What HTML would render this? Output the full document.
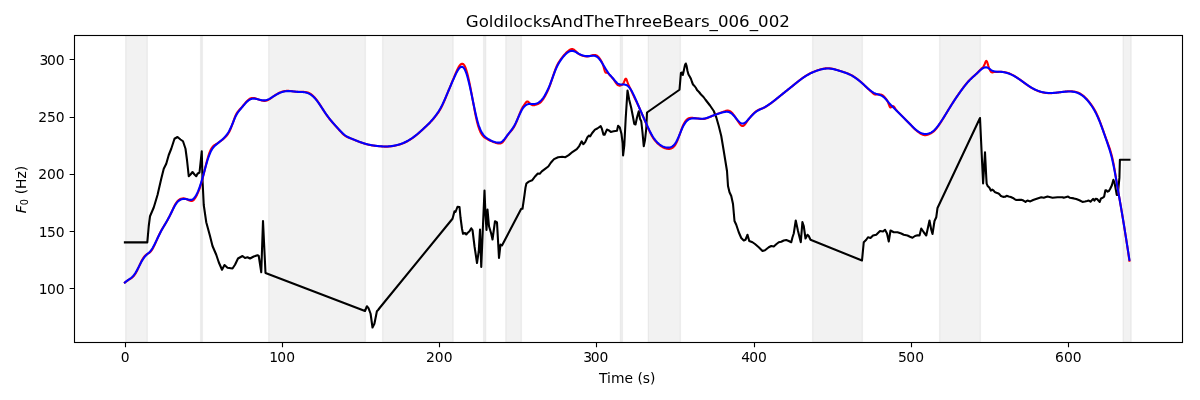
<!DOCTYPE html><html><head><meta charset="utf-8"><title>F0 plot</title>
<style>html,body{margin:0;padding:0;background:#fff;overflow:hidden}svg{display:block;will-change:transform}text{font-kerning:normal}</style></head><body>
<svg width="1200" height="400" viewBox="0 0 1200 400">
<rect x="0" y="0" width="1200" height="400" fill="#fff"/>
<defs><clipPath id="ax"><rect x="74.4" y="35.4" width="1108.1" height="306.8"/></clipPath></defs>
<g clip-path="url(#ax)" fill="#808080" fill-opacity="0.1" stroke="#808080" stroke-opacity="0.1" stroke-width="1.389">
<rect x="125.7" y="35.4" width="21.6" height="306.8"/>
<rect x="200.6" y="35.4" width="1.8" height="306.8"/>
<rect x="268.7" y="35.4" width="96.7" height="306.8"/>
<rect x="382.6" y="35.4" width="70.55" height="306.8"/>
<rect x="483.6" y="35.4" width="2.05" height="306.8"/>
<rect x="505.8" y="35.4" width="15.6" height="306.8"/>
<rect x="620.4" y="35.4" width="2" height="306.8"/>
<rect x="648.3" y="35.4" width="32.1" height="306.8"/>
<rect x="812.6" y="35.4" width="49.8" height="306.8"/>
<rect x="939.6" y="35.4" width="40.8" height="306.8"/>
<rect x="1123.1" y="35.4" width="8.05" height="306.8"/>
</g>
<g clip-path="url(#ax)" fill="none" stroke-width="2.083" stroke-linejoin="round" stroke-linecap="square">
<polyline stroke="#000" points="124.9,242.4 147.3,242.4 148.75,226 150,216.25 153.75,207.5 157.5,195 161.25,178.75 163.75,168.75 166.25,163.75 168.75,155 171.25,148.75 174.5,138.75 177.5,137 180.5,139.5 183,141.25 185.5,148.75 187,160 188.75,176.25 190.5,174.5 192.5,172 194.5,174.5 196.25,176.25 197.5,173.75 199.5,172.5 201.75,151.25 202.5,180 203.75,205 206.25,222.25 210,236 212.5,246 216.25,254.75 218.75,262.25 222,269.75 224.5,265 227.5,267.75 232.5,268.5 235,264.75 238,258.5 242.5,256 245,258 247.5,257.25 250,258.5 253.75,256.5 257.5,255.25 258.75,256 261.25,272.25 263,221 265.5,273 365,311 366.9,306.25 368.5,308.1 370.6,313.75 372.5,327.5 374.4,323.75 376.9,311.25 378.1,310 380,307.5 452.5,218.75 454.5,211.25 455.5,212 457.5,206.75 459.5,207 460.5,217.5 462,228.75 463,233.75 465,233 466.25,234.5 467.5,233 469.5,231.25 471.25,228.25 472.5,230 474.5,246.25 477,263 478.75,251.25 480,229.5 481.25,267 483,225 484.5,190.5 485.5,215 486.5,230 487.5,209.5 489,226.25 491.25,233.75 492.5,239.5 495,221.25 497,222.5 499,258 500.5,244.5 502,245.5 521.25,208.75 522.5,208.75 524.5,195 525.5,187.5 526.4,183.5 528.8,181.6 532.1,180.3 535.3,176.2 537.8,173.5 539.7,173.8 541.8,171.3 545.1,168.9 548.3,166.5 550.8,162.7 554,159.1 558.1,157.2 562.2,156.7 565.4,157.2 568.7,155.1 572.7,151.8 576.8,149.1 579.2,146.1 581.7,141.3 583.3,144.2 585.2,142.1 587.4,137.2 589,135.6 590.1,136.4 592.2,133 595,129.6 597.3,128.5 600.7,126.2 601.8,128.5 603.5,134.7 604.6,134.7 606.9,129.6 608.5,130.2 610.8,131.9 613.6,131.3 617,130.7 618.1,125.7 619.8,127.4 621.5,134.1 622.6,143.1 623.1,155.4 624.3,145.3 625.75,117.5 627.5,90.5 629.25,100 631.25,108 633,117 634.25,123.75 635.5,124.5 637,117.5 638.75,111.25 640,118.75 641.25,121.25 642.5,132.5 643.75,146.25 645,140 646.25,128.75 647,112.5 679.5,89.75 680.9,73 682,72.5 682.8,75 683.5,72 685,65 685.8,63.5 686.5,65.5 687.5,71 688.5,74.5 690,77 691,79 692,82 693,84.5 694.5,86 696,88 697,90 699,92 701,94.5 703.5,97 705.5,99.75 710,105.5 713.75,111 716.25,117.25 718.75,126 721.25,136 723.75,151 727,171 728,186 729.5,192.25 731.25,196 733,204 734.5,221 736.25,224.75 738.75,232.25 741.25,238 743.75,240.5 745.5,239.75 747.5,234.75 749.25,241 752.5,242.25 755,244 758.75,247.25 762.5,251 765,250.25 768.75,247.25 771.25,246 773.75,246.5 776.25,244.25 778.75,242.25 781.25,241.75 783.75,240.5 786.25,240 788.75,241 791.25,242.25 792.5,237.25 793.75,233.5 795.75,220.5 798,231 800.8,242.25 802.4,222 803.75,226 805.5,238.5 807.5,234.75 808.75,236 810.5,239.75 862,260.5 863.75,242.25 866.25,239.75 868,237.25 870.5,238 873,235.5 876.25,234.75 880,231 883,231.5 885,229.75 887,233.5 888.75,241.5 890.5,230.5 893.75,232.25 897.5,232.25 901.25,233.5 903.75,234.75 907.5,235.5 910,236.75 912.5,237.75 915,236 917.5,235.25 919.5,235.5 921.25,228.5 923.75,232.25 926.25,235.5 929.5,220.5 931.25,229.75 932.5,234 934.5,221 936.25,217.25 937.5,208 980,118 983.1,183.5 985,152.25 986.3,178 986.65,183.6 987.7,186.05 989.45,187.8 990.85,190.6 992.25,189.55 993.65,190.6 994.7,192 996.45,192.7 998.55,193.4 999.95,194.8 1001,196.05 1003.1,196.9 1005.2,196.75 1006.6,195.85 1008.7,196.55 1010.8,197.05 1012.9,197.95 1015,199.35 1016.4,200.05 1019.2,199.85 1021.3,199.7 1023.4,200.55 1025.5,201.95 1026.9,200.95 1027.5,200.6 1030.3,201.4 1033.1,200 1037.5,198.4 1041.25,197.2 1043.75,197.8 1047.5,196.6 1052.5,197.8 1057.5,197.2 1062.5,197.2 1063.75,197.8 1068.1,196.6 1070,197.8 1073.75,198.4 1076.25,199.05 1079.4,200.3 1082.5,201.9 1085,201.55 1087,201.1 1088.75,200.6 1090.5,201.7 1093.1,198.9 1094.4,200.6 1095.75,198.7 1097.1,199 1098.4,200.6 1099.7,201.9 1101,198.4 1102.75,197.8 1104.1,196.7 1105.4,190.3 1106.25,190.3 1107.6,191.7 1108.9,191 1110.2,188.8 1111.9,185.3 1113.4,179.8 1114.6,183.1 1115.9,190.1 1116.75,194.9 1117.8,194.9 1118.5,187.5 1119.4,177.9 1119.9,159.75 1129.45,159.75"/>
<polyline stroke="#f00" points="124.9,282.45 125.4,282.09 125.9,281.73 126.4,281.36 126.9,280.99 127.4,280.63 127.9,280.28 128.4,279.94 128.9,279.63 129.4,279.33 129.9,279.03 130.4,278.74 130.9,278.43 131.4,278.1 131.9,277.74 132.4,277.33 132.9,276.88 133.4,276.36 133.9,275.78 134.4,275.14 134.9,274.44 135.4,273.67 135.9,272.85 136.4,271.96 136.9,271.01 137.4,269.99 137.9,268.93 138.4,267.83 138.9,266.72 139.4,265.6 139.9,264.48 140.4,263.38 140.9,262.32 141.4,261.31 141.9,260.34 142.4,259.42 142.9,258.57 143.4,257.79 143.9,257.08 144.4,256.44 144.9,255.88 145.4,255.37 145.9,254.94 146.4,254.56 146.9,254.24 147.4,253.95 147.9,253.67 148.4,253.39 148.9,253.09 149.4,252.75 149.9,252.34 150.4,251.87 150.9,251.33 151.4,250.71 151.9,250.01 152.4,249.23 152.9,248.35 153.4,247.41 153.9,246.4 154.4,245.34 154.9,244.25 155.4,243.13 155.9,242 156.4,240.85 156.9,239.71 157.4,238.57 157.9,237.45 158.4,236.34 158.9,235.26 159.4,234.2 159.9,233.18 160.4,232.2 160.9,231.26 161.4,230.35 161.9,229.47 162.4,228.62 162.9,227.78 163.4,226.96 163.9,226.15 164.4,225.34 164.9,224.52 165.4,223.71 165.9,222.88 166.4,222.05 166.9,221.2 167.4,220.33 167.9,219.44 168.4,218.53 168.9,217.6 169.4,216.64 169.9,215.65 170.4,214.62 170.9,213.57 171.4,212.48 171.9,211.35 172.4,210.21 172.9,209.08 173.4,207.96 173.9,206.89 174.4,205.87 174.9,204.92 175.4,204.05 175.9,203.25 176.4,202.52 176.9,201.85 177.4,201.26 177.9,200.74 178.4,200.29 178.9,199.89 179.4,199.55 179.9,199.26 180.4,199.01 180.9,198.81 181.4,198.65 181.9,198.53 182.4,198.45 182.9,198.4 183.4,198.39 183.9,198.41 184.4,198.47 184.9,198.56 185.4,198.69 185.9,198.85 186.4,199.04 186.9,199.26 187.4,199.5 187.9,199.75 188.4,200 188.9,200.24 189.4,200.46 189.9,200.64 190.4,200.79 190.9,200.89 191.4,200.93 191.9,200.9 192.4,200.77 192.9,200.54 193.4,200.2 193.9,199.74 194.4,199.17 194.9,198.5 195.4,197.73 195.9,196.88 196.4,195.95 196.9,194.97 197.4,193.92 197.9,192.83 198.4,191.67 198.9,190.43 199.4,189.11 199.9,187.7 200.4,186.17 200.9,184.55 201.4,182.83 201.9,181.03 202.4,179.16 202.9,177.23 203.4,175.24 203.9,173.21 204.4,171.15 204.9,169.08 205.4,167.01 205.9,164.97 206.4,162.98 206.9,161.05 207.4,159.21 207.9,157.47 208.4,155.84 208.9,154.33 209.4,152.94 209.9,151.67 210.4,150.53 210.9,149.5 211.4,148.59 211.9,147.79 212.4,147.1 212.9,146.51 213.4,146.01 213.9,145.58 214.4,145.21 214.9,144.87 215.4,144.56 215.9,144.26 216.4,143.95 216.9,143.64 217.4,143.31 217.9,142.99 218.4,142.65 218.9,142.31 219.4,141.97 219.9,141.62 220.4,141.26 220.9,140.9 221.4,140.53 221.9,140.15 222.4,139.77 222.9,139.37 223.4,138.96 223.9,138.53 224.4,138.08 224.9,137.61 225.4,137.11 225.9,136.58 226.4,136.01 226.9,135.41 227.4,134.76 227.9,134.06 228.4,133.28 228.9,132.44 229.4,131.51 229.9,130.5 230.4,129.4 230.9,128.22 231.4,126.96 231.9,125.63 232.4,124.23 232.9,122.79 233.4,121.35 233.9,119.92 234.4,118.53 234.9,117.2 235.4,115.97 235.9,114.84 236.4,113.85 236.9,112.99 237.4,112.22 237.9,111.55 238.4,110.94 238.9,110.37 239.4,109.83 239.9,109.3 240.4,108.76 240.9,108.2 241.4,107.64 241.9,107.06 242.4,106.47 242.9,105.87 243.4,105.27 243.9,104.66 244.4,104.05 244.9,103.44 245.4,102.84 245.9,102.25 246.4,101.69 246.9,101.15 247.4,100.64 247.9,100.17 248.4,99.74 248.9,99.36 249.4,99.02 249.9,98.73 250.4,98.48 250.9,98.28 251.4,98.13 251.9,98.02 252.4,97.96 252.9,97.93 253.4,97.95 253.9,98 254.4,98.08 254.9,98.19 255.4,98.33 255.9,98.49 256.4,98.66 256.9,98.85 257.4,99.04 257.9,99.23 258.4,99.42 258.9,99.61 259.4,99.79 259.9,99.96 260.4,100.12 260.9,100.27 261.4,100.41 261.9,100.54 262.4,100.65 262.9,100.75 263.4,100.82 263.9,100.87 264.4,100.9 264.9,100.88 265.4,100.84 265.9,100.75 266.4,100.63 266.9,100.47 267.4,100.28 267.9,100.06 268.4,99.81 268.9,99.53 269.4,99.23 269.9,98.91 270.4,98.57 270.9,98.22 271.4,97.86 271.9,97.49 272.4,97.13 272.9,96.77 273.4,96.42 273.9,96.07 274.4,95.73 274.9,95.4 275.4,95.07 275.9,94.75 276.4,94.43 276.9,94.13 277.4,93.83 277.9,93.55 278.4,93.28 278.9,93.02 279.4,92.77 279.9,92.53 280.4,92.32 280.9,92.11 281.4,91.93 281.9,91.75 282.4,91.6 282.9,91.46 283.4,91.34 283.9,91.23 284.4,91.14 284.9,91.06 285.4,90.99 285.9,90.94 286.4,90.91 286.9,90.88 287.4,90.87 287.9,90.86 288.4,90.87 288.9,90.89 289.4,90.92 289.9,90.96 290.4,91.01 290.9,91.07 291.4,91.13 291.9,91.19 292.4,91.27 292.9,91.34 293.4,91.41 293.9,91.49 294.4,91.56 294.9,91.63 295.4,91.69 295.9,91.75 296.4,91.81 296.9,91.85 297.4,91.88 297.9,91.91 298.4,91.92 298.9,91.92 299.4,91.91 299.9,91.9 300.4,91.89 300.9,91.88 301.4,91.86 301.9,91.86 302.4,91.85 302.9,91.85 303.4,91.87 303.9,91.89 304.4,91.92 304.9,91.96 305.4,92.03 305.9,92.1 306.4,92.2 306.9,92.31 307.4,92.45 307.9,92.6 308.4,92.78 308.9,92.99 309.4,93.23 309.9,93.49 310.4,93.78 310.9,94.11 311.4,94.47 311.9,94.85 312.4,95.26 312.9,95.7 313.4,96.17 313.9,96.67 314.4,97.2 314.9,97.75 315.4,98.33 315.9,98.94 316.4,99.58 316.9,100.24 317.4,100.91 317.9,101.61 318.4,102.33 318.9,103.07 319.4,103.82 319.9,104.58 320.4,105.36 320.9,106.15 321.4,106.94 321.9,107.74 322.4,108.55 322.9,109.35 323.4,110.16 323.9,110.95 324.4,111.74 324.9,112.52 325.4,113.28 325.9,114.02 326.4,114.74 326.9,115.45 327.4,116.14 327.9,116.82 328.4,117.49 328.9,118.14 329.4,118.78 329.9,119.4 330.4,120.02 330.9,120.62 331.4,121.22 331.9,121.8 332.4,122.38 332.9,122.95 333.4,123.52 333.9,124.07 334.4,124.63 334.9,125.18 335.4,125.73 335.9,126.28 336.4,126.83 336.9,127.38 337.4,127.94 337.9,128.5 338.4,129.06 338.9,129.63 339.4,130.2 339.9,130.76 340.4,131.32 340.9,131.87 341.4,132.4 341.9,132.93 342.4,133.44 342.9,133.93 343.4,134.39 343.9,134.83 344.4,135.25 344.9,135.63 345.4,135.98 345.9,136.3 346.4,136.6 346.9,136.87 347.4,137.12 347.9,137.35 348.4,137.57 348.9,137.77 349.4,137.96 349.9,138.15 350.4,138.33 350.9,138.51 351.4,138.7 351.9,138.88 352.4,139.07 352.9,139.26 353.4,139.46 353.9,139.66 354.4,139.86 354.9,140.06 355.4,140.27 355.9,140.47 356.4,140.68 356.9,140.88 357.4,141.08 357.9,141.28 358.4,141.48 358.9,141.67 359.4,141.87 359.9,142.05 360.4,142.24 360.9,142.42 361.4,142.6 361.9,142.77 362.4,142.94 362.9,143.11 363.4,143.27 363.9,143.43 364.4,143.58 364.9,143.73 365.4,143.87 365.9,144.01 366.4,144.15 366.9,144.28 367.4,144.41 367.9,144.54 368.4,144.65 368.9,144.77 369.4,144.88 369.9,144.98 370.4,145.09 370.9,145.18 371.4,145.27 371.9,145.36 372.4,145.44 372.9,145.51 373.4,145.59 373.9,145.65 374.4,145.72 374.9,145.78 375.4,145.84 375.9,145.89 376.4,145.95 376.9,146 377.4,146.05 377.9,146.09 378.4,146.14 378.9,146.18 379.4,146.23 379.9,146.27 380.4,146.32 380.9,146.36 381.4,146.4 381.9,146.44 382.4,146.48 382.9,146.52 383.4,146.55 383.9,146.57 384.4,146.59 384.9,146.61 385.4,146.62 385.9,146.62 386.4,146.62 386.9,146.6 387.4,146.59 387.9,146.56 388.4,146.53 388.9,146.5 389.4,146.46 389.9,146.41 390.4,146.36 390.9,146.3 391.4,146.24 391.9,146.17 392.4,146.1 392.9,146.02 393.4,145.94 393.9,145.85 394.4,145.76 394.9,145.66 395.4,145.56 395.9,145.46 396.4,145.34 396.9,145.23 397.4,145.11 397.9,144.98 398.4,144.84 398.9,144.71 399.4,144.56 399.9,144.41 400.4,144.25 400.9,144.08 401.4,143.91 401.9,143.73 402.4,143.54 402.9,143.35 403.4,143.15 403.9,142.94 404.4,142.72 404.9,142.49 405.4,142.25 405.9,142.01 406.4,141.75 406.9,141.49 407.4,141.22 407.9,140.94 408.4,140.66 408.9,140.36 409.4,140.06 409.9,139.75 410.4,139.43 410.9,139.11 411.4,138.77 411.9,138.43 412.4,138.09 412.9,137.73 413.4,137.37 413.9,137 414.4,136.62 414.9,136.24 415.4,135.85 415.9,135.45 416.4,135.04 416.9,134.63 417.4,134.22 417.9,133.79 418.4,133.37 418.9,132.93 419.4,132.49 419.9,132.05 420.4,131.6 420.9,131.15 421.4,130.7 421.9,130.24 422.4,129.78 422.9,129.31 423.4,128.85 423.9,128.38 424.4,127.91 424.9,127.44 425.4,126.98 425.9,126.51 426.4,126.04 426.9,125.57 427.4,125.1 427.9,124.62 428.4,124.14 428.9,123.65 429.4,123.15 429.9,122.65 430.4,122.13 430.9,121.61 431.4,121.07 431.9,120.52 432.4,119.96 432.9,119.39 433.4,118.81 433.9,118.21 434.4,117.61 434.9,116.99 435.4,116.36 435.9,115.72 436.4,115.07 436.9,114.41 437.4,113.73 437.9,113.04 438.4,112.32 438.9,111.58 439.4,110.8 439.9,109.98 440.4,109.12 440.9,108.21 441.4,107.25 441.9,106.26 442.4,105.22 442.9,104.14 443.4,103.04 443.9,101.9 444.4,100.75 444.9,99.57 445.4,98.37 445.9,97.16 446.4,95.94 446.9,94.71 447.4,93.47 447.9,92.23 448.4,90.99 448.9,89.75 449.4,88.52 449.9,87.29 450.4,86.06 450.9,84.84 451.4,83.62 451.9,82.41 452.4,81.19 452.9,79.99 453.4,78.78 453.9,77.58 454.4,76.37 454.9,75.17 455.4,73.97 455.9,72.77 456.4,71.61 456.9,70.47 457.4,69.39 457.9,68.38 458.4,67.44 458.9,66.59 459.4,65.83 459.9,65.19 460.4,64.65 460.9,64.24 461.4,63.96 461.9,63.81 462.4,63.8 462.9,63.95 463.4,64.26 463.9,64.75 464.4,65.45 464.9,66.34 465.4,67.44 465.9,68.75 466.4,70.26 466.9,71.96 467.4,73.83 467.9,75.84 468.4,77.97 468.9,80.22 469.4,82.57 469.9,85.01 470.4,87.54 470.9,90.14 471.4,92.79 471.9,95.49 472.4,98.22 472.9,100.95 473.4,103.69 473.9,106.41 474.4,109.09 474.9,111.72 475.4,114.28 475.9,116.74 476.4,119.07 476.9,121.26 477.4,123.26 477.9,125.09 478.4,126.76 478.9,128.26 479.4,129.63 479.9,130.85 480.4,131.95 480.9,132.94 481.4,133.82 481.9,134.6 482.4,135.29 482.9,135.9 483.4,136.44 483.9,136.92 484.4,137.35 484.9,137.72 485.4,138.06 485.9,138.37 486.4,138.65 486.9,138.93 487.4,139.19 487.9,139.46 488.4,139.72 488.9,139.97 489.4,140.22 489.9,140.46 490.4,140.7 490.9,140.93 491.4,141.15 491.9,141.37 492.4,141.59 492.9,141.8 493.4,142 493.9,142.2 494.4,142.39 494.9,142.57 495.4,142.74 495.9,142.89 496.4,143.04 496.9,143.17 497.4,143.29 497.9,143.4 498.4,143.49 498.9,143.55 499.4,143.57 499.9,143.55 500.4,143.47 500.9,143.32 501.4,143.1 501.9,142.79 502.4,142.39 502.9,141.89 503.4,141.32 503.9,140.68 504.4,139.99 504.9,139.26 505.4,138.5 505.9,137.72 506.4,136.94 506.9,136.18 507.4,135.45 507.9,134.77 508.4,134.12 508.9,133.51 509.4,132.92 509.9,132.34 510.4,131.77 510.9,131.19 511.4,130.6 511.9,129.98 512.4,129.34 512.9,128.65 513.4,127.92 513.9,127.12 514.4,126.26 514.9,125.32 515.4,124.29 515.9,123.17 516.4,122 516.9,120.77 517.4,119.5 517.9,118.21 518.4,116.91 518.9,115.61 519.4,114.32 519.9,113.06 520.4,111.84 520.9,110.67 521.4,109.58 521.9,108.55 522.4,107.62 522.9,106.79 523.4,106.03 523.9,105.32 524.4,104.63 524.9,103.92 525.4,103.2 525.9,102.51 526.4,101.93 526.9,101.54 527.4,101.43 527.9,101.58 528.4,101.96 528.9,102.46 529.4,102.99 529.9,103.5 530.4,103.95 530.9,104.35 531.4,104.68 531.9,104.95 532.4,105.14 532.9,105.25 533.4,105.28 533.9,105.24 534.4,105.15 534.9,105.02 535.4,104.87 535.9,104.71 536.4,104.55 536.9,104.37 537.4,104.19 537.9,103.98 538.4,103.75 538.9,103.48 539.4,103.17 539.9,102.82 540.4,102.41 540.9,101.94 541.4,101.42 541.9,100.85 542.4,100.22 542.9,99.54 543.4,98.81 543.9,98.04 544.4,97.22 544.9,96.37 545.4,95.48 545.9,94.55 546.4,93.58 546.9,92.56 547.4,91.5 547.9,90.4 548.4,89.24 548.9,88.04 549.4,86.78 549.9,85.46 550.4,84.08 550.9,82.66 551.4,81.19 551.9,79.7 552.4,78.19 552.9,76.67 553.4,75.16 553.9,73.67 554.4,72.2 554.9,70.78 555.4,69.4 555.9,68.1 556.4,66.87 556.9,65.72 557.4,64.68 557.9,63.72 558.4,62.84 558.9,62.02 559.4,61.25 559.9,60.51 560.4,59.79 560.9,59.1 561.4,58.42 561.9,57.75 562.4,57.11 562.9,56.48 563.4,55.87 563.9,55.27 564.4,54.7 564.9,54.14 565.4,53.6 565.9,53.08 566.4,52.59 566.9,52.11 567.4,51.66 567.9,51.23 568.4,50.82 568.9,50.44 569.4,50.09 569.9,49.77 570.4,49.5 570.9,49.29 571.4,49.14 571.9,49.06 572.4,49.08 572.9,49.2 573.4,49.41 573.9,49.7 574.4,50.06 574.9,50.47 575.4,50.92 575.9,51.38 576.4,51.85 576.9,52.32 577.4,52.76 577.9,53.18 578.4,53.57 578.9,53.93 579.4,54.25 579.9,54.53 580.4,54.79 580.9,55.03 581.4,55.25 581.9,55.45 582.4,55.64 582.9,55.81 583.4,55.96 583.9,56.1 584.4,56.21 584.9,56.31 585.4,56.38 585.9,56.43 586.4,56.45 586.9,56.45 587.4,56.43 587.9,56.38 588.4,56.32 588.9,56.23 589.4,56.13 589.9,56.01 590.4,55.87 590.9,55.71 591.4,55.55 591.9,55.4 592.4,55.25 592.9,55.12 593.4,55.02 593.9,54.95 594.4,54.92 594.9,54.94 595.4,55.01 595.9,55.15 596.4,55.35 596.9,55.62 597.4,55.97 597.9,56.41 598.4,56.92 598.9,57.51 599.4,58.17 599.9,58.88 600.4,59.65 600.9,60.46 601.4,61.32 601.9,62.26 602.4,63.31 602.9,64.56 603.4,66.08 603.9,67.87 604.4,69.74 604.9,71.35 605.4,72.38 605.9,72.78 606.4,72.77 606.9,72.68 607.4,72.77 607.9,73.09 608.4,73.6 608.9,74.17 609.4,74.75 609.9,75.31 610.4,75.84 610.9,76.36 611.4,76.88 611.9,77.41 612.4,77.97 612.9,78.56 613.4,79.22 613.9,79.92 614.4,80.65 614.9,81.4 615.4,82.15 615.9,82.88 616.4,83.56 616.9,84.17 617.4,84.69 617.9,85.09 618.4,85.38 618.9,85.55 619.4,85.62 619.9,85.61 620.4,85.51 620.9,85.36 621.4,85.16 621.9,84.91 622.4,84.57 622.9,84.09 623.4,83.36 623.9,82.33 624.4,81.05 624.9,79.76 625.4,78.84 625.9,78.63 626.4,79.26 626.9,80.51 627.4,82.03 627.9,83.5 628.4,84.76 628.9,85.83 629.4,86.81 629.9,87.77 630.4,88.77 630.9,89.83 631.4,90.92 631.9,92.05 632.4,93.17 632.9,94.28 633.4,95.36 633.9,96.42 634.4,97.44 634.9,98.45 635.4,99.45 635.9,100.46 636.4,101.49 636.9,102.54 637.4,103.61 637.9,104.7 638.4,105.8 638.9,106.91 639.4,108.04 639.9,109.17 640.4,110.3 640.9,111.44 641.4,112.58 641.9,113.73 642.4,114.88 642.9,116.03 643.4,117.19 643.9,118.35 644.4,119.51 644.9,120.67 645.4,121.84 645.9,122.99 646.4,124.15 646.9,125.3 647.4,126.44 647.9,127.58 648.4,128.71 648.9,129.82 649.4,130.91 649.9,131.98 650.4,133.02 650.9,134.02 651.4,134.99 651.9,135.91 652.4,136.79 652.9,137.61 653.4,138.39 653.9,139.11 654.4,139.8 654.9,140.44 655.4,141.04 655.9,141.62 656.4,142.16 656.9,142.68 657.4,143.17 657.9,143.64 658.4,144.1 658.9,144.53 659.4,144.94 659.9,145.34 660.4,145.72 660.9,146.07 661.4,146.41 661.9,146.73 662.4,147.03 662.9,147.3 663.4,147.56 663.9,147.79 664.4,148.01 664.9,148.2 665.4,148.37 665.9,148.51 666.4,148.63 666.9,148.74 667.4,148.82 667.9,148.88 668.4,148.92 668.9,148.93 669.4,148.91 669.9,148.85 670.4,148.75 670.9,148.61 671.4,148.42 671.9,148.18 672.4,147.88 672.9,147.51 673.4,147.09 673.9,146.59 674.4,146.01 674.9,145.35 675.4,144.6 675.9,143.76 676.4,142.81 676.9,141.76 677.4,140.62 677.9,139.39 678.4,138.1 678.9,136.76 679.4,135.36 679.9,133.94 680.4,132.49 680.9,131.04 681.4,129.62 681.9,128.25 682.4,126.95 682.9,125.76 683.4,124.66 683.9,123.67 684.4,122.77 684.9,121.95 685.4,121.22 685.9,120.58 686.4,120.01 686.9,119.52 687.4,119.1 687.9,118.76 688.4,118.48 688.9,118.27 689.4,118.1 689.9,117.99 690.4,117.91 690.9,117.87 691.4,117.85 691.9,117.86 692.4,117.88 692.9,117.91 693.4,117.95 693.9,118 694.4,118.05 694.9,118.11 695.4,118.17 695.9,118.23 696.4,118.3 696.9,118.38 697.4,118.45 697.9,118.52 698.4,118.59 698.9,118.66 699.4,118.73 699.9,118.79 700.4,118.85 700.9,118.89 701.4,118.93 701.9,118.96 702.4,118.97 702.9,118.97 703.4,118.95 703.9,118.91 704.4,118.85 704.9,118.77 705.4,118.66 705.9,118.52 706.4,118.37 706.9,118.2 707.4,118.01 707.9,117.81 708.4,117.6 708.9,117.38 709.4,117.15 709.9,116.93 710.4,116.7 710.9,116.47 711.4,116.25 711.9,116.04 712.4,115.83 712.9,115.63 713.4,115.43 713.9,115.24 714.4,115.05 714.9,114.86 715.4,114.67 715.9,114.49 716.4,114.3 716.9,114.12 717.4,113.94 717.9,113.76 718.4,113.57 718.9,113.39 719.4,113.21 719.9,113.03 720.4,112.84 720.9,112.66 721.4,112.48 721.9,112.3 722.4,112.11 722.9,111.92 723.4,111.73 723.9,111.54 724.4,111.35 724.9,111.17 725.4,111 725.9,110.85 726.4,110.73 726.9,110.64 727.4,110.6 727.9,110.6 728.4,110.65 728.9,110.77 729.4,110.94 729.9,111.17 730.4,111.46 730.9,111.82 731.4,112.25 731.9,112.74 732.4,113.28 732.9,113.88 733.4,114.52 733.9,115.19 734.4,115.9 734.9,116.63 735.4,117.38 735.9,118.15 736.4,118.92 736.9,119.7 737.4,120.47 737.9,121.24 738.4,121.99 738.9,122.73 739.4,123.43 739.9,124.1 740.4,124.71 740.9,125.23 741.4,125.64 741.9,125.92 742.4,126.04 742.9,126 743.4,125.8 743.9,125.46 744.4,125 744.9,124.44 745.4,123.82 745.9,123.14 746.4,122.44 746.9,121.73 747.4,121.02 747.9,120.32 748.4,119.64 748.9,118.98 749.4,118.33 749.9,117.71 750.4,117.1 750.9,116.5 751.4,115.91 751.9,115.33 752.4,114.77 752.9,114.22 753.4,113.69 753.9,113.18 754.4,112.7 754.9,112.25 755.4,111.83 755.9,111.44 756.4,111.08 756.9,110.76 757.4,110.45 757.9,110.18 758.4,109.93 758.9,109.7 759.4,109.5 759.9,109.31 760.4,109.13 760.9,108.96 761.4,108.78 761.9,108.6 762.4,108.41 762.9,108.21 763.4,107.98 763.9,107.74 764.4,107.49 764.9,107.23 765.4,106.95 765.9,106.66 766.4,106.36 766.9,106.05 767.4,105.73 767.9,105.41 768.4,105.07 768.9,104.73 769.4,104.38 769.9,104.02 770.4,103.66 770.9,103.29 771.4,102.91 771.9,102.53 772.4,102.15 772.9,101.76 773.4,101.37 773.9,100.98 774.4,100.58 774.9,100.18 775.4,99.77 775.9,99.37 776.4,98.96 776.9,98.55 777.4,98.14 777.9,97.73 778.4,97.32 778.9,96.91 779.4,96.5 779.9,96.09 780.4,95.69 780.9,95.28 781.4,94.88 781.9,94.47 782.4,94.07 782.9,93.67 783.4,93.27 783.9,92.87 784.4,92.47 784.9,92.07 785.4,91.68 785.9,91.28 786.4,90.88 786.9,90.48 787.4,90.08 787.9,89.68 788.4,89.29 788.9,88.89 789.4,88.49 789.9,88.09 790.4,87.69 790.9,87.28 791.4,86.88 791.9,86.48 792.4,86.07 792.9,85.66 793.4,85.25 793.9,84.84 794.4,84.43 794.9,84.02 795.4,83.62 795.9,83.21 796.4,82.8 796.9,82.39 797.4,81.99 797.9,81.59 798.4,81.19 798.9,80.79 799.4,80.4 799.9,80.01 800.4,79.63 800.9,79.25 801.4,78.87 801.9,78.5 802.4,78.14 802.9,77.78 803.4,77.43 803.9,77.08 804.4,76.74 804.9,76.41 805.4,76.09 805.9,75.78 806.4,75.47 806.9,75.17 807.4,74.88 807.9,74.6 808.4,74.32 808.9,74.05 809.4,73.78 809.9,73.53 810.4,73.28 810.9,73.03 811.4,72.8 811.9,72.56 812.4,72.34 812.9,72.12 813.4,71.9 813.9,71.7 814.4,71.49 814.9,71.29 815.4,71.1 815.9,70.91 816.4,70.73 816.9,70.55 817.4,70.38 817.9,70.21 818.4,70.04 818.9,69.88 819.4,69.72 819.9,69.57 820.4,69.43 820.9,69.29 821.4,69.16 821.9,69.03 822.4,68.92 822.9,68.81 823.4,68.71 823.9,68.61 824.4,68.53 824.9,68.46 825.4,68.4 825.9,68.34 826.4,68.3 826.9,68.27 827.4,68.25 827.9,68.24 828.4,68.25 828.9,68.27 829.4,68.3 829.9,68.35 830.4,68.41 830.9,68.47 831.4,68.55 831.9,68.64 832.4,68.74 832.9,68.85 833.4,68.96 833.9,69.09 834.4,69.22 834.9,69.35 835.4,69.49 835.9,69.64 836.4,69.79 836.9,69.94 837.4,70.09 837.9,70.25 838.4,70.41 838.9,70.57 839.4,70.73 839.9,70.89 840.4,71.05 840.9,71.2 841.4,71.36 841.9,71.51 842.4,71.67 842.9,71.82 843.4,71.98 843.9,72.14 844.4,72.31 844.9,72.47 845.4,72.65 845.9,72.82 846.4,73 846.9,73.19 847.4,73.38 847.9,73.58 848.4,73.78 848.9,74 849.4,74.22 849.9,74.44 850.4,74.68 850.9,74.93 851.4,75.19 851.9,75.45 852.4,75.73 852.9,76.02 853.4,76.32 853.9,76.63 854.4,76.96 854.9,77.29 855.4,77.63 855.9,77.98 856.4,78.35 856.9,78.72 857.4,79.1 857.9,79.48 858.4,79.88 858.9,80.29 859.4,80.7 859.9,81.12 860.4,81.55 860.9,81.98 861.4,82.43 861.9,82.88 862.4,83.34 862.9,83.81 863.4,84.28 863.9,84.76 864.4,85.24 864.9,85.73 865.4,86.22 865.9,86.7 866.4,87.19 866.9,87.67 867.4,88.15 867.9,88.62 868.4,89.09 868.9,89.55 869.4,90.01 869.9,90.47 870.4,90.92 870.9,91.39 871.4,91.86 871.9,92.33 872.4,92.79 872.9,93.23 873.4,93.64 873.9,93.99 874.4,94.26 874.9,94.45 875.4,94.56 875.9,94.59 876.4,94.58 876.9,94.55 877.4,94.5 877.9,94.46 878.4,94.43 878.9,94.41 879.4,94.41 879.9,94.43 880.4,94.48 880.9,94.56 881.4,94.7 881.9,94.9 882.4,95.16 882.9,95.5 883.4,95.9 883.9,96.36 884.4,96.88 884.9,97.45 885.4,98.06 885.9,98.71 886.4,99.41 886.9,100.18 887.4,101.07 887.9,102.12 888.4,103.36 888.9,104.7 889.4,105.97 889.9,106.94 890.4,107.44 890.9,107.47 891.4,107.16 891.9,106.71 892.4,106.32 892.9,106.12 893.4,106.21 893.9,106.6 894.4,107.25 894.9,108.05 895.4,108.86 895.9,109.6 896.4,110.26 896.9,110.83 897.4,111.36 897.9,111.87 898.4,112.37 898.9,112.87 899.4,113.37 899.9,113.87 900.4,114.37 900.9,114.87 901.4,115.38 901.9,115.88 902.4,116.38 902.9,116.88 903.4,117.38 903.9,117.88 904.4,118.38 904.9,118.89 905.4,119.39 905.9,119.89 906.4,120.39 906.9,120.9 907.4,121.41 907.9,121.92 908.4,122.43 908.9,122.95 909.4,123.47 909.9,123.99 910.4,124.53 910.9,125.07 911.4,125.61 911.9,126.14 912.4,126.68 912.9,127.21 913.4,127.73 913.9,128.24 914.4,128.74 914.9,129.22 915.4,129.69 915.9,130.14 916.4,130.57 916.9,130.99 917.4,131.39 917.9,131.78 918.4,132.15 918.9,132.52 919.4,132.87 919.9,133.2 920.4,133.52 920.9,133.83 921.4,134.11 921.9,134.37 922.4,134.6 922.9,134.79 923.4,134.95 923.9,135.07 924.4,135.14 924.9,135.18 925.4,135.17 925.9,135.12 926.4,135.04 926.9,134.93 927.4,134.8 927.9,134.64 928.4,134.46 928.9,134.26 929.4,134.05 929.9,133.82 930.4,133.57 930.9,133.3 931.4,133.01 931.9,132.7 932.4,132.36 932.9,132 933.4,131.6 933.9,131.17 934.4,130.71 934.9,130.21 935.4,129.67 935.9,129.1 936.4,128.5 936.9,127.87 937.4,127.21 937.9,126.52 938.4,125.82 938.9,125.1 939.4,124.37 939.9,123.63 940.4,122.87 940.9,122.1 941.4,121.33 941.9,120.54 942.4,119.74 942.9,118.94 943.4,118.13 943.9,117.31 944.4,116.49 944.9,115.66 945.4,114.83 945.9,114 946.4,113.16 946.9,112.33 947.4,111.49 947.9,110.66 948.4,109.83 948.9,109 949.4,108.17 949.9,107.35 950.4,106.54 950.9,105.74 951.4,104.94 951.9,104.15 952.4,103.37 952.9,102.59 953.4,101.82 953.9,101.05 954.4,100.29 954.9,99.53 955.4,98.78 955.9,98.03 956.4,97.29 956.9,96.55 957.4,95.82 957.9,95.1 958.4,94.37 958.9,93.65 959.4,92.94 959.9,92.23 960.4,91.52 960.9,90.82 961.4,90.12 961.9,89.43 962.4,88.75 962.9,88.07 963.4,87.4 963.9,86.73 964.4,86.08 964.9,85.43 965.4,84.8 965.9,84.17 966.4,83.56 966.9,82.96 967.4,82.37 967.9,81.79 968.4,81.23 968.9,80.68 969.4,80.15 969.9,79.64 970.4,79.15 970.9,78.67 971.4,78.2 971.9,77.75 972.4,77.31 972.9,76.88 973.4,76.45 973.9,76.02 974.4,75.59 974.9,75.16 975.4,74.72 975.9,74.27 976.4,73.82 976.9,73.34 977.4,72.85 977.9,72.34 978.4,71.81 978.9,71.26 979.4,70.72 979.9,70.18 980.4,69.64 980.9,69.12 981.4,68.62 981.9,68.15 982.4,67.68 982.9,67.19 983.4,66.61 983.9,65.85 984.4,64.82 984.9,63.54 985.4,62.21 985.9,61.2 986.4,60.89 986.9,61.45 987.4,62.73 987.9,64.39 988.4,66.08 988.9,67.59 989.4,68.88 989.9,69.98 990.4,70.92 990.9,71.65 991.4,72.13 991.9,72.35 992.4,72.37 992.9,72.27 993.4,72.14 993.9,72.04 994.4,71.98 994.9,71.95 995.4,71.95 995.9,71.95 996.4,71.94 996.9,71.92 997.4,71.9 997.9,71.87 998.4,71.84 998.9,71.8 999.4,71.78 999.9,71.76 1000.4,71.75 1000.9,71.76 1001.4,71.78 1001.9,71.81 1002.4,71.85 1002.9,71.91 1003.4,71.97 1003.9,72.04 1004.4,72.13 1004.9,72.22 1005.4,72.33 1005.9,72.44 1006.4,72.57 1006.9,72.7 1007.4,72.85 1007.9,73 1008.4,73.17 1008.9,73.34 1009.4,73.53 1009.9,73.73 1010.4,73.94 1010.9,74.16 1011.4,74.39 1011.9,74.64 1012.4,74.89 1012.9,75.15 1013.4,75.42 1013.9,75.7 1014.4,75.99 1014.9,76.29 1015.4,76.59 1015.9,76.9 1016.4,77.22 1016.9,77.54 1017.4,77.87 1017.9,78.2 1018.4,78.55 1018.9,78.89 1019.4,79.24 1019.9,79.6 1020.4,79.96 1020.9,80.32 1021.4,80.69 1021.9,81.06 1022.4,81.43 1022.9,81.8 1023.4,82.18 1023.9,82.55 1024.4,82.92 1024.9,83.3 1025.4,83.67 1025.9,84.04 1026.4,84.4 1026.9,84.76 1027.4,85.12 1027.9,85.48 1028.4,85.82 1028.9,86.17 1029.4,86.5 1029.9,86.83 1030.4,87.15 1030.9,87.46 1031.4,87.77 1031.9,88.06 1032.4,88.35 1032.9,88.63 1033.4,88.9 1033.9,89.17 1034.4,89.42 1034.9,89.67 1035.4,89.91 1035.9,90.14 1036.4,90.36 1036.9,90.58 1037.4,90.78 1037.9,90.98 1038.4,91.17 1038.9,91.35 1039.4,91.52 1039.9,91.68 1040.4,91.83 1040.9,91.97 1041.4,92.11 1041.9,92.23 1042.4,92.34 1042.9,92.45 1043.4,92.55 1043.9,92.64 1044.4,92.72 1044.9,92.8 1045.4,92.87 1045.9,92.92 1046.4,92.98 1046.9,93.02 1047.4,93.06 1047.9,93.09 1048.4,93.11 1048.9,93.13 1049.4,93.14 1049.9,93.14 1050.4,93.14 1050.9,93.13 1051.4,93.12 1051.9,93.1 1052.4,93.07 1052.9,93.04 1053.4,93.01 1053.9,92.97 1054.4,92.92 1054.9,92.88 1055.4,92.83 1055.9,92.77 1056.4,92.72 1056.9,92.66 1057.4,92.59 1057.9,92.53 1058.4,92.47 1058.9,92.4 1059.4,92.33 1059.9,92.26 1060.4,92.2 1060.9,92.13 1061.4,92.06 1061.9,91.99 1062.4,91.92 1062.9,91.85 1063.4,91.79 1063.9,91.73 1064.4,91.67 1064.9,91.61 1065.4,91.56 1065.9,91.51 1066.4,91.46 1066.9,91.42 1067.4,91.39 1067.9,91.36 1068.4,91.33 1068.9,91.31 1069.4,91.3 1069.9,91.29 1070.4,91.29 1070.9,91.3 1071.4,91.32 1071.9,91.34 1072.4,91.38 1072.9,91.42 1073.4,91.48 1073.9,91.54 1074.4,91.62 1074.9,91.71 1075.4,91.82 1075.9,91.94 1076.4,92.07 1076.9,92.22 1077.4,92.39 1077.9,92.57 1078.4,92.77 1078.9,92.99 1079.4,93.23 1079.9,93.49 1080.4,93.77 1080.9,94.07 1081.4,94.4 1081.9,94.74 1082.4,95.1 1082.9,95.49 1083.4,95.89 1083.9,96.31 1084.4,96.75 1084.9,97.21 1085.4,97.7 1085.9,98.2 1086.4,98.71 1086.9,99.25 1087.4,99.81 1087.9,100.38 1088.4,100.97 1088.9,101.58 1089.4,102.21 1089.9,102.85 1090.4,103.51 1090.9,104.19 1091.4,104.88 1091.9,105.59 1092.4,106.33 1092.9,107.09 1093.4,107.87 1093.9,108.69 1094.4,109.54 1094.9,110.42 1095.4,111.35 1095.9,112.31 1096.4,113.32 1096.9,114.37 1097.4,115.47 1097.9,116.61 1098.4,117.78 1098.9,118.99 1099.4,120.24 1099.9,121.52 1100.4,122.83 1100.9,124.17 1101.4,125.54 1101.9,126.93 1102.4,128.33 1102.9,129.75 1103.4,131.18 1103.9,132.6 1104.4,134.03 1104.9,135.44 1105.4,136.83 1105.9,138.2 1106.4,139.55 1106.9,140.89 1107.4,142.23 1107.9,143.57 1108.4,144.92 1108.9,146.3 1109.4,147.7 1109.9,149.19 1110.4,150.76 1110.9,152.43 1111.4,154.22 1111.9,156.17 1112.4,158.29 1112.9,160.6 1113.4,163.07 1113.9,165.69 1114.4,168.45 1114.9,171.33 1115.4,174.31 1115.9,177.34 1116.4,180.4 1116.9,183.45 1117.4,186.46 1117.9,189.41 1118.4,192.33 1118.9,195.21 1119.4,198.09 1119.9,200.96 1120.4,203.85 1120.9,206.76 1121.4,209.7 1121.9,212.67 1122.4,215.67 1122.9,218.7 1123.4,221.77 1123.9,224.86 1124.4,227.99 1124.9,231.14 1125.4,234.31 1125.9,237.51 1126.4,240.72 1126.9,243.95 1127.4,247.21 1127.9,250.53 1128.4,253.89 1128.9,257.24 1129.4,260.42 1129.45,260.73"/>
<polyline stroke="#00f" points="124.9,282.45 125.4,282.06 125.9,281.67 126.4,281.29 126.9,280.91 127.4,280.54 127.9,280.18 128.4,279.83 128.9,279.49 129.4,279.16 129.9,278.82 130.4,278.47 130.9,278.1 131.4,277.71 131.9,277.28 132.4,276.8 132.9,276.28 133.4,275.71 133.9,275.1 134.4,274.43 134.9,273.72 135.4,272.96 135.9,272.15 136.4,271.31 136.9,270.43 137.4,269.52 137.9,268.57 138.4,267.61 138.9,266.63 139.4,265.65 139.9,264.67 140.4,263.7 140.9,262.76 141.4,261.84 141.9,260.96 142.4,260.11 142.9,259.31 143.4,258.55 143.9,257.83 144.4,257.17 144.9,256.55 145.4,255.97 145.9,255.43 146.4,254.94 146.9,254.47 147.4,254.02 147.9,253.58 148.4,253.14 148.9,252.69 149.4,252.2 149.9,251.68 150.4,251.11 150.9,250.5 151.4,249.83 151.9,249.11 152.4,248.33 152.9,247.5 153.4,246.61 153.9,245.68 154.4,244.71 154.9,243.72 155.4,242.7 155.9,241.67 156.4,240.63 156.9,239.58 157.4,238.53 157.9,237.49 158.4,236.46 158.9,235.43 159.4,234.43 159.9,233.44 160.4,232.47 160.9,231.53 161.4,230.61 161.9,229.71 162.4,228.82 162.9,227.95 163.4,227.08 163.9,226.22 164.4,225.37 164.9,224.51 165.4,223.65 165.9,222.78 166.4,221.91 166.9,221.03 167.4,220.14 167.9,219.24 168.4,218.33 168.9,217.39 169.4,216.45 169.9,215.49 170.4,214.51 170.9,213.51 171.4,212.5 171.9,211.47 172.4,210.44 172.9,209.41 173.4,208.41 173.9,207.44 174.4,206.51 174.9,205.63 175.4,204.81 175.9,204.05 176.4,203.34 176.9,202.69 177.4,202.1 177.9,201.58 178.4,201.1 178.9,200.69 179.4,200.32 179.9,200.01 180.4,199.74 180.9,199.51 181.4,199.32 181.9,199.17 182.4,199.05 182.9,198.97 183.4,198.92 183.9,198.89 184.4,198.9 184.9,198.93 185.4,198.98 185.9,199.05 186.4,199.15 186.9,199.26 187.4,199.37 187.9,199.49 188.4,199.61 188.9,199.71 189.4,199.8 189.9,199.86 190.4,199.89 190.9,199.87 191.4,199.81 191.9,199.67 192.4,199.46 192.9,199.16 193.4,198.77 193.9,198.29 194.4,197.73 194.9,197.09 195.4,196.36 195.9,195.56 196.4,194.68 196.9,193.72 197.4,192.69 197.9,191.58 198.4,190.4 198.9,189.14 199.4,187.8 199.9,186.4 200.4,184.92 200.9,183.37 201.4,181.76 201.9,180.1 202.4,178.39 202.9,176.63 203.4,174.85 203.9,173.03 204.4,171.2 204.9,169.36 205.4,167.53 205.9,165.73 206.4,163.96 206.9,162.23 207.4,160.57 207.9,158.99 208.4,157.49 208.9,156.08 209.4,154.75 209.9,153.52 210.4,152.38 210.9,151.33 211.4,150.37 211.9,149.5 212.4,148.71 212.9,148 213.4,147.37 213.9,146.79 214.4,146.26 214.9,145.77 215.4,145.32 215.9,144.88 216.4,144.45 216.9,144.03 217.4,143.61 217.9,143.19 218.4,142.78 218.9,142.37 219.4,141.96 219.9,141.55 220.4,141.13 220.9,140.71 221.4,140.28 221.9,139.85 222.4,139.4 222.9,138.94 223.4,138.47 223.9,137.98 224.4,137.46 224.9,136.93 225.4,136.36 225.9,135.77 226.4,135.15 226.9,134.5 227.4,133.8 227.9,133.06 228.4,132.28 228.9,131.43 229.4,130.53 229.9,129.58 230.4,128.56 230.9,127.49 231.4,126.37 231.9,125.2 232.4,124 232.9,122.77 233.4,121.53 233.9,120.31 234.4,119.11 234.9,117.95 235.4,116.85 235.9,115.81 236.4,114.87 236.9,114 237.4,113.2 237.9,112.45 238.4,111.76 238.9,111.1 239.4,110.47 239.9,109.85 240.4,109.23 240.9,108.62 241.4,108.02 241.9,107.41 242.4,106.81 242.9,106.21 243.4,105.62 243.9,105.04 244.4,104.46 244.9,103.89 245.4,103.34 245.9,102.8 246.4,102.29 246.9,101.8 247.4,101.34 247.9,100.91 248.4,100.52 248.9,100.16 249.4,99.84 249.9,99.55 250.4,99.31 250.9,99.1 251.4,98.93 251.9,98.8 252.4,98.7 252.9,98.64 253.4,98.61 253.9,98.61 254.4,98.63 254.9,98.68 255.4,98.76 255.9,98.85 256.4,98.95 256.9,99.07 257.4,99.19 257.9,99.32 258.4,99.45 258.9,99.58 259.4,99.7 259.9,99.82 260.4,99.93 260.9,100.03 261.4,100.13 261.9,100.21 262.4,100.28 262.9,100.33 263.4,100.37 263.9,100.38 264.4,100.38 264.9,100.35 265.4,100.29 265.9,100.2 266.4,100.08 266.9,99.94 267.4,99.77 267.9,99.57 268.4,99.36 268.9,99.12 269.4,98.86 269.9,98.58 270.4,98.29 270.9,97.99 271.4,97.68 271.9,97.37 272.4,97.05 272.9,96.73 273.4,96.42 273.9,96.1 274.4,95.79 274.9,95.49 275.4,95.19 275.9,94.89 276.4,94.6 276.9,94.32 277.4,94.05 277.9,93.78 278.4,93.53 278.9,93.28 279.4,93.05 279.9,92.83 280.4,92.62 280.9,92.42 281.4,92.24 281.9,92.08 282.4,91.92 282.9,91.78 283.4,91.66 283.9,91.55 284.4,91.45 284.9,91.36 285.4,91.29 285.9,91.23 286.4,91.18 286.9,91.15 287.4,91.12 287.9,91.1 288.4,91.1 288.9,91.1 289.4,91.12 289.9,91.14 290.4,91.17 290.9,91.2 291.4,91.24 291.9,91.29 292.4,91.34 292.9,91.39 293.4,91.45 293.9,91.5 294.4,91.56 294.9,91.61 295.4,91.66 295.9,91.71 296.4,91.76 296.9,91.8 297.4,91.84 297.9,91.87 298.4,91.89 298.9,91.91 299.4,91.92 299.9,91.94 300.4,91.95 300.9,91.97 301.4,91.99 301.9,92.01 302.4,92.04 302.9,92.07 303.4,92.12 303.9,92.17 304.4,92.24 304.9,92.32 305.4,92.41 305.9,92.52 306.4,92.64 306.9,92.79 307.4,92.95 307.9,93.13 308.4,93.34 308.9,93.56 309.4,93.82 309.9,94.09 310.4,94.4 310.9,94.73 311.4,95.09 311.9,95.47 312.4,95.88 312.9,96.32 313.4,96.78 313.9,97.27 314.4,97.78 314.9,98.32 315.4,98.88 315.9,99.46 316.4,100.07 316.9,100.7 317.4,101.35 317.9,102.01 318.4,102.7 318.9,103.4 319.4,104.11 319.9,104.83 320.4,105.57 320.9,106.31 321.4,107.07 321.9,107.82 322.4,108.58 322.9,109.35 323.4,110.11 323.9,110.86 324.4,111.62 324.9,112.36 325.4,113.09 325.9,113.82 326.4,114.53 326.9,115.22 327.4,115.91 327.9,116.58 328.4,117.25 328.9,117.9 329.4,118.54 329.9,119.18 330.4,119.8 330.9,120.41 331.4,121.02 331.9,121.62 332.4,122.21 332.9,122.79 333.4,123.36 333.9,123.93 334.4,124.5 334.9,125.06 335.4,125.62 335.9,126.17 336.4,126.72 336.9,127.27 337.4,127.82 337.9,128.37 338.4,128.91 338.9,129.46 339.4,130 339.9,130.54 340.4,131.06 340.9,131.58 341.4,132.09 341.9,132.59 342.4,133.07 342.9,133.53 343.4,133.98 343.9,134.4 344.4,134.81 344.9,135.19 345.4,135.55 345.9,135.88 346.4,136.19 346.9,136.49 347.4,136.77 347.9,137.03 348.4,137.28 348.9,137.51 349.4,137.74 349.9,137.96 350.4,138.17 350.9,138.38 351.4,138.59 351.9,138.79 352.4,139 352.9,139.2 353.4,139.41 353.9,139.61 354.4,139.82 354.9,140.02 355.4,140.22 355.9,140.43 356.4,140.63 356.9,140.83 357.4,141.03 357.9,141.22 358.4,141.41 358.9,141.61 359.4,141.79 359.9,141.98 360.4,142.16 360.9,142.34 361.4,142.51 361.9,142.68 362.4,142.85 362.9,143.01 363.4,143.17 363.9,143.33 364.4,143.48 364.9,143.63 365.4,143.77 365.9,143.91 366.4,144.05 366.9,144.18 367.4,144.31 367.9,144.43 368.4,144.55 368.9,144.66 369.4,144.77 369.9,144.88 370.4,144.98 370.9,145.08 371.4,145.17 371.9,145.26 372.4,145.34 372.9,145.42 373.4,145.49 373.9,145.57 374.4,145.63 374.9,145.7 375.4,145.76 375.9,145.82 376.4,145.88 376.9,145.93 377.4,145.98 377.9,146.03 378.4,146.08 378.9,146.12 379.4,146.17 379.9,146.21 380.4,146.25 380.9,146.29 381.4,146.32 381.9,146.36 382.4,146.39 382.9,146.42 383.4,146.44 383.9,146.46 384.4,146.48 384.9,146.49 385.4,146.49 385.9,146.49 386.4,146.48 386.9,146.47 387.4,146.45 387.9,146.43 388.4,146.4 388.9,146.36 389.4,146.32 389.9,146.28 390.4,146.22 390.9,146.17 391.4,146.11 391.9,146.04 392.4,145.97 392.9,145.89 393.4,145.8 393.9,145.72 394.4,145.62 394.9,145.53 395.4,145.42 395.9,145.31 396.4,145.2 396.9,145.08 397.4,144.95 397.9,144.82 398.4,144.69 398.9,144.54 399.4,144.39 399.9,144.24 400.4,144.08 400.9,143.91 401.4,143.73 401.9,143.55 402.4,143.36 402.9,143.16 403.4,142.95 403.9,142.74 404.4,142.52 404.9,142.29 405.4,142.05 405.9,141.81 406.4,141.55 406.9,141.29 407.4,141.02 407.9,140.75 408.4,140.46 408.9,140.17 409.4,139.87 409.9,139.56 410.4,139.24 410.9,138.92 411.4,138.59 411.9,138.25 412.4,137.91 412.9,137.55 413.4,137.19 413.9,136.83 414.4,136.45 414.9,136.07 415.4,135.69 415.9,135.29 416.4,134.89 416.9,134.49 417.4,134.07 417.9,133.66 418.4,133.23 418.9,132.81 419.4,132.37 419.9,131.93 420.4,131.49 420.9,131.05 421.4,130.59 421.9,130.14 422.4,129.68 422.9,129.22 423.4,128.76 423.9,128.29 424.4,127.82 424.9,127.35 425.4,126.87 425.9,126.39 426.4,125.92 426.9,125.43 427.4,124.95 427.9,124.45 428.4,123.96 428.9,123.45 429.4,122.94 429.9,122.42 430.4,121.89 430.9,121.35 431.4,120.79 431.9,120.23 432.4,119.66 432.9,119.07 433.4,118.47 433.9,117.86 434.4,117.23 434.9,116.6 435.4,115.94 435.9,115.28 436.4,114.6 436.9,113.91 437.4,113.2 437.9,112.47 438.4,111.72 438.9,110.94 439.4,110.13 439.9,109.3 440.4,108.43 440.9,107.52 441.4,106.58 441.9,105.6 442.4,104.59 442.9,103.55 443.4,102.49 443.9,101.4 444.4,100.29 444.9,99.17 445.4,98.02 445.9,96.87 446.4,95.7 446.9,94.52 447.4,93.34 447.9,92.15 448.4,90.96 448.9,89.77 449.4,88.58 449.9,87.4 450.4,86.22 450.9,85.05 451.4,83.88 451.9,82.72 452.4,81.58 452.9,80.44 453.4,79.31 453.9,78.2 454.4,77.1 454.9,76.02 455.4,74.95 455.9,73.91 456.4,72.9 456.9,71.94 457.4,71.03 457.9,70.19 458.4,69.41 458.9,68.72 459.4,68.12 459.9,67.62 460.4,67.23 460.9,66.95 461.4,66.79 461.9,66.77 462.4,66.88 462.9,67.13 463.4,67.54 463.9,68.1 464.4,68.84 464.9,69.74 465.4,70.81 465.9,72.04 466.4,73.44 466.9,74.98 467.4,76.67 467.9,78.47 468.4,80.38 468.9,82.39 469.4,84.49 469.9,86.67 470.4,88.92 470.9,91.24 471.4,93.6 471.9,96 472.4,98.42 472.9,100.85 473.4,103.28 473.9,105.7 474.4,108.08 474.9,110.43 475.4,112.71 475.9,114.93 476.4,117.05 476.9,119.05 477.4,120.93 477.9,122.68 478.4,124.31 478.9,125.82 479.4,127.21 479.9,128.49 480.4,129.66 480.9,130.74 481.4,131.72 481.9,132.62 482.4,133.44 482.9,134.18 483.4,134.85 483.9,135.46 484.4,136.01 484.9,136.52 485.4,136.98 485.9,137.4 486.4,137.8 486.9,138.16 487.4,138.51 487.9,138.85 488.4,139.16 488.9,139.46 489.4,139.75 489.9,140.03 490.4,140.29 490.9,140.53 491.4,140.77 491.9,140.99 492.4,141.21 492.9,141.41 493.4,141.6 493.9,141.78 494.4,141.95 494.9,142.1 495.4,142.23 495.9,142.35 496.4,142.45 496.9,142.53 497.4,142.6 497.9,142.64 498.4,142.66 498.9,142.65 499.4,142.61 499.9,142.52 500.4,142.39 500.9,142.2 501.4,141.96 501.9,141.66 502.4,141.28 502.9,140.84 503.4,140.35 503.9,139.8 504.4,139.21 504.9,138.59 505.4,137.93 505.9,137.26 506.4,136.58 506.9,135.9 507.4,135.22 507.9,134.57 508.4,133.92 508.9,133.29 509.4,132.66 509.9,132.03 510.4,131.4 510.9,130.75 511.4,130.09 511.9,129.41 512.4,128.7 512.9,127.96 513.4,127.19 513.9,126.37 514.4,125.51 514.9,124.6 515.4,123.63 515.9,122.61 516.4,121.55 516.9,120.46 517.4,119.34 517.9,118.22 518.4,117.08 518.9,115.96 519.4,114.84 519.9,113.75 520.4,112.69 520.9,111.68 521.4,110.71 521.9,109.81 522.4,108.97 522.9,108.21 523.4,107.53 523.9,106.92 524.4,106.38 524.9,105.9 525.4,105.49 525.9,105.13 526.4,104.83 526.9,104.58 527.4,104.38 527.9,104.22 528.4,104.09 528.9,104.01 529.4,103.95 529.9,103.92 530.4,103.91 530.9,103.91 531.4,103.93 531.9,103.95 532.4,103.98 532.9,103.99 533.4,104 533.9,103.99 534.4,103.97 534.9,103.92 535.4,103.84 535.9,103.72 536.4,103.58 536.9,103.4 537.4,103.19 537.9,102.94 538.4,102.65 538.9,102.33 539.4,101.96 539.9,101.56 540.4,101.12 540.9,100.63 541.4,100.1 541.9,99.53 542.4,98.92 542.9,98.27 543.4,97.58 543.9,96.85 544.4,96.07 544.9,95.25 545.4,94.39 545.9,93.49 546.4,92.55 546.9,91.57 547.4,90.55 547.9,89.48 548.4,88.38 548.9,87.23 549.4,86.04 549.9,84.81 550.4,83.54 550.9,82.23 551.4,80.9 551.9,79.54 552.4,78.18 552.9,76.82 553.4,75.46 553.9,74.11 554.4,72.78 554.9,71.49 555.4,70.23 555.9,69.02 556.4,67.86 556.9,66.77 557.4,65.74 557.9,64.77 558.4,63.86 558.9,63 559.4,62.18 559.9,61.39 560.4,60.63 560.9,59.9 561.4,59.19 561.9,58.51 562.4,57.85 562.9,57.21 563.4,56.6 563.9,56.01 564.4,55.44 564.9,54.9 565.4,54.39 565.9,53.9 566.4,53.45 566.9,53.02 567.4,52.63 567.9,52.27 568.4,51.95 568.9,51.67 569.4,51.42 569.9,51.22 570.4,51.06 570.9,50.95 571.4,50.88 571.9,50.86 572.4,50.89 572.9,50.96 573.4,51.08 573.9,51.24 574.4,51.43 574.9,51.65 575.4,51.9 575.9,52.16 576.4,52.44 576.9,52.72 577.4,53.01 577.9,53.29 578.4,53.57 578.9,53.84 579.4,54.09 579.9,54.33 580.4,54.55 580.9,54.76 581.4,54.95 581.9,55.14 582.4,55.31 582.9,55.46 583.4,55.61 583.9,55.74 584.4,55.85 584.9,55.94 585.4,56.02 585.9,56.08 586.4,56.12 586.9,56.15 587.4,56.16 587.9,56.15 588.4,56.13 588.9,56.1 589.4,56.06 589.9,56.01 590.4,55.95 590.9,55.88 591.4,55.82 591.9,55.77 592.4,55.72 592.9,55.7 593.4,55.7 593.9,55.72 594.4,55.79 594.9,55.89 595.4,56.03 595.9,56.23 596.4,56.47 596.9,56.77 597.4,57.13 597.9,57.55 598.4,58.03 598.9,58.57 599.4,59.16 599.9,59.8 600.4,60.48 600.9,61.19 601.4,61.94 601.9,62.71 602.4,63.51 602.9,64.32 603.4,65.14 603.9,65.97 604.4,66.8 604.9,67.63 605.4,68.45 605.9,69.27 606.4,70.06 606.9,70.84 607.4,71.59 607.9,72.32 608.4,73.02 608.9,73.68 609.4,74.31 609.9,74.91 610.4,75.49 610.9,76.05 611.4,76.61 611.9,77.16 612.4,77.72 612.9,78.29 613.4,78.88 613.9,79.48 614.4,80.09 614.9,80.7 615.4,81.28 615.9,81.84 616.4,82.36 616.9,82.83 617.4,83.24 617.9,83.58 618.4,83.85 618.9,84.07 619.4,84.23 619.9,84.34 620.4,84.42 620.9,84.47 621.4,84.49 621.9,84.5 622.4,84.51 622.9,84.51 623.4,84.51 623.9,84.53 624.4,84.58 624.9,84.65 625.4,84.75 625.9,84.9 626.4,85.09 626.9,85.35 627.4,85.66 627.9,86.05 628.4,86.5 628.9,87.03 629.4,87.62 629.9,88.27 630.4,88.98 630.9,89.75 631.4,90.57 631.9,91.45 632.4,92.37 632.9,93.35 633.4,94.36 633.9,95.41 634.4,96.5 634.9,97.61 635.4,98.74 635.9,99.89 636.4,101.04 636.9,102.21 637.4,103.37 637.9,104.53 638.4,105.69 638.9,106.84 639.4,107.98 639.9,109.13 640.4,110.27 640.9,111.41 641.4,112.54 641.9,113.68 642.4,114.82 642.9,115.96 643.4,117.1 643.9,118.24 644.4,119.37 644.9,120.51 645.4,121.63 645.9,122.76 646.4,123.87 646.9,124.98 647.4,126.08 647.9,127.17 648.4,128.24 648.9,129.3 649.4,130.33 649.9,131.35 650.4,132.34 650.9,133.29 651.4,134.22 651.9,135.11 652.4,135.96 652.9,136.78 653.4,137.54 653.9,138.28 654.4,138.97 654.9,139.63 655.4,140.25 655.9,140.84 656.4,141.4 656.9,141.94 657.4,142.45 657.9,142.93 658.4,143.39 658.9,143.82 659.4,144.23 659.9,144.62 660.4,144.98 660.9,145.32 661.4,145.63 661.9,145.93 662.4,146.19 662.9,146.43 663.4,146.65 663.9,146.85 664.4,147.02 664.9,147.17 665.4,147.3 665.9,147.4 666.4,147.49 666.9,147.55 667.4,147.59 667.9,147.61 668.4,147.61 668.9,147.58 669.4,147.52 669.9,147.42 670.4,147.29 670.9,147.12 671.4,146.9 671.9,146.63 672.4,146.3 672.9,145.93 673.4,145.49 673.9,144.99 674.4,144.42 674.9,143.79 675.4,143.08 675.9,142.31 676.4,141.45 676.9,140.52 677.4,139.52 677.9,138.46 678.4,137.35 678.9,136.2 679.4,135.01 679.9,133.81 680.4,132.59 680.9,131.37 681.4,130.17 681.9,129.01 682.4,127.89 682.9,126.84 683.4,125.86 683.9,124.95 684.4,124.11 684.9,123.33 685.4,122.62 685.9,121.98 686.4,121.4 686.9,120.88 687.4,120.42 687.9,120.02 688.4,119.68 688.9,119.39 689.4,119.15 689.9,118.95 690.4,118.79 690.9,118.66 691.4,118.56 691.9,118.49 692.4,118.43 692.9,118.39 693.4,118.37 693.9,118.36 694.4,118.36 694.9,118.36 695.4,118.38 695.9,118.4 696.4,118.43 696.9,118.46 697.4,118.5 697.9,118.53 698.4,118.57 698.9,118.61 699.4,118.64 699.9,118.67 700.4,118.69 700.9,118.71 701.4,118.72 701.9,118.72 702.4,118.71 702.9,118.68 703.4,118.65 703.9,118.6 704.4,118.53 704.9,118.45 705.4,118.34 705.9,118.22 706.4,118.09 706.9,117.94 707.4,117.77 707.9,117.6 708.4,117.42 708.9,117.23 709.4,117.03 709.9,116.84 710.4,116.63 710.9,116.43 711.4,116.23 711.9,116.04 712.4,115.84 712.9,115.65 713.4,115.46 713.9,115.27 714.4,115.09 714.9,114.91 715.4,114.72 715.9,114.54 716.4,114.37 716.9,114.19 717.4,114.02 717.9,113.84 718.4,113.67 718.9,113.51 719.4,113.34 719.9,113.18 720.4,113.03 720.9,112.87 721.4,112.73 721.9,112.59 722.4,112.46 722.9,112.34 723.4,112.22 723.9,112.11 724.4,112.02 724.9,111.94 725.4,111.87 725.9,111.82 726.4,111.8 726.9,111.8 727.4,111.82 727.9,111.88 728.4,111.97 728.9,112.1 729.4,112.27 729.9,112.48 730.4,112.73 730.9,113.03 731.4,113.37 731.9,113.77 732.4,114.2 732.9,114.68 733.4,115.19 733.9,115.73 734.4,116.3 734.9,116.89 735.4,117.49 735.9,118.11 736.4,118.72 736.9,119.33 737.4,119.93 737.9,120.5 738.4,121.06 738.9,121.58 739.4,122.05 739.9,122.47 740.4,122.84 740.9,123.13 741.4,123.36 741.9,123.51 742.4,123.57 742.9,123.56 743.4,123.47 743.9,123.29 744.4,123.05 744.9,122.73 745.4,122.36 745.9,121.92 746.4,121.45 746.9,120.93 747.4,120.4 747.9,119.85 748.4,119.3 748.9,118.75 749.4,118.2 749.9,117.66 750.4,117.12 750.9,116.58 751.4,116.05 751.9,115.53 752.4,115.01 752.9,114.51 753.4,114.02 753.9,113.55 754.4,113.1 754.9,112.66 755.4,112.25 755.9,111.87 756.4,111.5 756.9,111.16 757.4,110.84 757.9,110.54 758.4,110.25 758.9,109.98 759.4,109.73 759.9,109.49 760.4,109.26 760.9,109.04 761.4,108.81 761.9,108.59 762.4,108.36 762.9,108.12 763.4,107.87 763.9,107.61 764.4,107.34 764.9,107.07 765.4,106.78 765.9,106.49 766.4,106.19 766.9,105.88 767.4,105.56 767.9,105.24 768.4,104.91 768.9,104.57 769.4,104.23 769.9,103.88 770.4,103.52 770.9,103.16 771.4,102.79 771.9,102.42 772.4,102.04 772.9,101.67 773.4,101.28 773.9,100.89 774.4,100.5 774.9,100.11 775.4,99.71 775.9,99.32 776.4,98.92 776.9,98.51 777.4,98.11 777.9,97.71 778.4,97.3 778.9,96.9 779.4,96.49 779.9,96.09 780.4,95.69 780.9,95.28 781.4,94.88 781.9,94.48 782.4,94.08 782.9,93.68 783.4,93.28 783.9,92.88 784.4,92.48 784.9,92.08 785.4,91.68 785.9,91.28 786.4,90.88 786.9,90.48 787.4,90.08 787.9,89.68 788.4,89.28 788.9,88.88 789.4,88.48 789.9,88.08 790.4,87.68 790.9,87.28 791.4,86.88 791.9,86.47 792.4,86.07 792.9,85.67 793.4,85.26 793.9,84.86 794.4,84.46 794.9,84.05 795.4,83.65 795.9,83.25 796.4,82.85 796.9,82.45 797.4,82.05 797.9,81.66 798.4,81.27 798.9,80.88 799.4,80.49 799.9,80.11 800.4,79.74 800.9,79.36 801.4,78.99 801.9,78.63 802.4,78.27 802.9,77.92 803.4,77.58 803.9,77.23 804.4,76.9 804.9,76.57 805.4,76.25 805.9,75.94 806.4,75.64 806.9,75.34 807.4,75.05 807.9,74.76 808.4,74.48 808.9,74.21 809.4,73.95 809.9,73.69 810.4,73.44 810.9,73.19 811.4,72.95 811.9,72.72 812.4,72.49 812.9,72.27 813.4,72.05 813.9,71.84 814.4,71.64 814.9,71.44 815.4,71.25 815.9,71.06 816.4,70.87 816.9,70.7 817.4,70.52 817.9,70.36 818.4,70.19 818.9,70.04 819.4,69.89 819.9,69.74 820.4,69.6 820.9,69.47 821.4,69.35 821.9,69.23 822.4,69.12 822.9,69.02 823.4,68.92 823.9,68.84 824.4,68.76 824.9,68.7 825.4,68.64 825.9,68.59 826.4,68.55 826.9,68.53 827.4,68.51 827.9,68.5 828.4,68.51 828.9,68.53 829.4,68.55 829.9,68.59 830.4,68.65 830.9,68.71 831.4,68.78 831.9,68.86 832.4,68.94 832.9,69.04 833.4,69.14 833.9,69.25 834.4,69.37 834.9,69.49 835.4,69.62 835.9,69.76 836.4,69.9 836.9,70.04 837.4,70.18 837.9,70.33 838.4,70.48 838.9,70.64 839.4,70.79 839.9,70.95 840.4,71.1 840.9,71.26 841.4,71.42 841.9,71.58 842.4,71.74 842.9,71.9 843.4,72.07 843.9,72.24 844.4,72.41 844.9,72.59 845.4,72.77 845.9,72.95 846.4,73.14 846.9,73.34 847.4,73.54 847.9,73.75 848.4,73.96 848.9,74.18 849.4,74.41 849.9,74.65 850.4,74.89 850.9,75.14 851.4,75.4 851.9,75.68 852.4,75.96 852.9,76.25 853.4,76.55 853.9,76.86 854.4,77.18 854.9,77.51 855.4,77.85 855.9,78.2 856.4,78.56 856.9,78.92 857.4,79.3 857.9,79.68 858.4,80.07 858.9,80.46 859.4,80.87 859.9,81.28 860.4,81.7 860.9,82.12 861.4,82.55 861.9,82.99 862.4,83.43 862.9,83.88 863.4,84.34 863.9,84.79 864.4,85.25 864.9,85.71 865.4,86.17 865.9,86.63 866.4,87.09 866.9,87.54 867.4,87.99 867.9,88.43 868.4,88.87 868.9,89.29 869.4,89.71 869.9,90.12 870.4,90.51 870.9,90.89 871.4,91.26 871.9,91.61 872.4,91.95 872.9,92.26 873.4,92.56 873.9,92.84 874.4,93.09 874.9,93.33 875.4,93.54 875.9,93.73 876.4,93.9 876.9,94.06 877.4,94.21 877.9,94.36 878.4,94.51 878.9,94.66 879.4,94.82 879.9,94.99 880.4,95.18 880.9,95.39 881.4,95.62 881.9,95.89 882.4,96.18 882.9,96.51 883.4,96.87 883.9,97.26 884.4,97.7 884.9,98.18 885.4,98.68 885.9,99.22 886.4,99.79 886.9,100.37 887.4,100.97 887.9,101.57 888.4,102.18 888.9,102.79 889.4,103.39 889.9,103.97 890.4,104.53 890.9,105.07 891.4,105.6 891.9,106.1 892.4,106.6 892.9,107.08 893.4,107.56 893.9,108.04 894.4,108.51 894.9,108.98 895.4,109.46 895.9,109.94 896.4,110.43 896.9,110.91 897.4,111.4 897.9,111.9 898.4,112.39 898.9,112.89 899.4,113.39 899.9,113.89 900.4,114.39 900.9,114.89 901.4,115.39 901.9,115.89 902.4,116.39 902.9,116.89 903.4,117.39 903.9,117.89 904.4,118.39 904.9,118.9 905.4,119.4 905.9,119.9 906.4,120.4 906.9,120.9 907.4,121.41 907.9,121.91 908.4,122.42 908.9,122.93 909.4,123.43 909.9,123.95 910.4,124.46 910.9,124.97 911.4,125.48 911.9,125.99 912.4,126.5 912.9,126.99 913.4,127.48 913.9,127.96 914.4,128.43 914.9,128.88 915.4,129.31 915.9,129.73 916.4,130.14 916.9,130.52 917.4,130.89 917.9,131.24 918.4,131.57 918.9,131.88 919.4,132.18 919.9,132.45 920.4,132.7 920.9,132.93 921.4,133.14 921.9,133.33 922.4,133.5 922.9,133.64 923.4,133.76 923.9,133.86 924.4,133.93 924.9,133.98 925.4,134 925.9,134 926.4,133.97 926.9,133.92 927.4,133.84 927.9,133.73 928.4,133.6 928.9,133.45 929.4,133.27 929.9,133.06 930.4,132.83 930.9,132.58 931.4,132.3 931.9,131.99 932.4,131.65 932.9,131.29 933.4,130.89 933.9,130.47 934.4,130.02 934.9,129.53 935.4,129.01 935.9,128.47 936.4,127.89 936.9,127.29 937.4,126.67 937.9,126.02 938.4,125.35 938.9,124.67 939.4,123.97 939.9,123.26 940.4,122.53 940.9,121.79 941.4,121.04 941.9,120.28 942.4,119.51 942.9,118.73 943.4,117.95 943.9,117.15 944.4,116.36 944.9,115.55 945.4,114.74 945.9,113.93 946.4,113.12 946.9,112.3 947.4,111.49 947.9,110.67 948.4,109.86 948.9,109.05 949.4,108.24 949.9,107.43 950.4,106.63 950.9,105.84 951.4,105.05 951.9,104.26 952.4,103.48 952.9,102.71 953.4,101.94 953.9,101.17 954.4,100.41 954.9,99.66 955.4,98.91 955.9,98.16 956.4,97.42 956.9,96.69 957.4,95.96 957.9,95.23 958.4,94.51 958.9,93.8 959.4,93.08 959.9,92.38 960.4,91.68 960.9,90.98 961.4,90.29 961.9,89.61 962.4,88.94 962.9,88.27 963.4,87.6 963.9,86.95 964.4,86.31 964.9,85.67 965.4,85.04 965.9,84.43 966.4,83.82 966.9,83.22 967.4,82.64 967.9,82.07 968.4,81.5 968.9,80.96 969.4,80.42 969.9,79.9 970.4,79.39 970.9,78.9 971.4,78.41 971.9,77.94 972.4,77.47 972.9,77.01 973.4,76.56 973.9,76.11 974.4,75.67 974.9,75.22 975.4,74.77 975.9,74.32 976.4,73.87 976.9,73.41 977.4,72.95 977.9,72.48 978.4,72 978.9,71.52 979.4,71.05 979.9,70.59 980.4,70.14 980.9,69.71 981.4,69.29 981.9,68.91 982.4,68.56 982.9,68.24 983.4,67.96 983.9,67.73 984.4,67.55 984.9,67.42 985.4,67.34 985.9,67.32 986.4,67.35 986.9,67.45 987.4,67.61 987.9,67.84 988.4,68.12 988.9,68.45 989.4,68.8 989.9,69.16 990.4,69.52 990.9,69.87 991.4,70.18 991.9,70.46 992.4,70.7 992.9,70.91 993.4,71.09 993.9,71.24 994.4,71.36 994.9,71.46 995.4,71.54 995.9,71.61 996.4,71.65 996.9,71.69 997.4,71.72 997.9,71.74 998.4,71.75 998.9,71.77 999.4,71.79 999.9,71.81 1000.4,71.83 1000.9,71.87 1001.4,71.91 1001.9,71.96 1002.4,72.02 1002.9,72.09 1003.4,72.16 1003.9,72.25 1004.4,72.34 1004.9,72.44 1005.4,72.55 1005.9,72.67 1006.4,72.8 1006.9,72.94 1007.4,73.09 1007.9,73.24 1008.4,73.41 1008.9,73.59 1009.4,73.77 1009.9,73.97 1010.4,74.18 1010.9,74.4 1011.4,74.62 1011.9,74.86 1012.4,75.11 1012.9,75.36 1013.4,75.63 1013.9,75.9 1014.4,76.18 1014.9,76.47 1015.4,76.76 1015.9,77.06 1016.4,77.37 1016.9,77.69 1017.4,78.01 1017.9,78.33 1018.4,78.66 1018.9,79 1019.4,79.34 1019.9,79.69 1020.4,80.03 1020.9,80.39 1021.4,80.74 1021.9,81.1 1022.4,81.46 1022.9,81.82 1023.4,82.18 1023.9,82.54 1024.4,82.9 1024.9,83.26 1025.4,83.62 1025.9,83.97 1026.4,84.32 1026.9,84.67 1027.4,85.02 1027.9,85.36 1028.4,85.7 1028.9,86.03 1029.4,86.36 1029.9,86.68 1030.4,86.99 1030.9,87.29 1031.4,87.59 1031.9,87.88 1032.4,88.17 1032.9,88.44 1033.4,88.71 1033.9,88.97 1034.4,89.22 1034.9,89.47 1035.4,89.71 1035.9,89.93 1036.4,90.15 1036.9,90.37 1037.4,90.57 1037.9,90.77 1038.4,90.95 1038.9,91.13 1039.4,91.3 1039.9,91.46 1040.4,91.62 1040.9,91.76 1041.4,91.89 1041.9,92.02 1042.4,92.14 1042.9,92.25 1043.4,92.35 1043.9,92.44 1044.4,92.53 1044.9,92.61 1045.4,92.68 1045.9,92.74 1046.4,92.8 1046.9,92.84 1047.4,92.89 1047.9,92.92 1048.4,92.95 1048.9,92.97 1049.4,92.99 1049.9,93 1050.4,93 1050.9,92.99 1051.4,92.99 1051.9,92.97 1052.4,92.95 1052.9,92.93 1053.4,92.9 1053.9,92.87 1054.4,92.83 1054.9,92.79 1055.4,92.75 1055.9,92.7 1056.4,92.65 1056.9,92.6 1057.4,92.55 1057.9,92.49 1058.4,92.44 1058.9,92.38 1059.4,92.32 1059.9,92.26 1060.4,92.2 1060.9,92.14 1061.4,92.08 1061.9,92.02 1062.4,91.96 1062.9,91.91 1063.4,91.85 1063.9,91.8 1064.4,91.75 1064.9,91.7 1065.4,91.66 1065.9,91.62 1066.4,91.59 1066.9,91.55 1067.4,91.53 1067.9,91.51 1068.4,91.5 1068.9,91.49 1069.4,91.49 1069.9,91.49 1070.4,91.51 1070.9,91.53 1071.4,91.56 1071.9,91.6 1072.4,91.64 1072.9,91.7 1073.4,91.77 1073.9,91.86 1074.4,91.95 1074.9,92.06 1075.4,92.18 1075.9,92.31 1076.4,92.46 1076.9,92.62 1077.4,92.8 1077.9,93 1078.4,93.21 1078.9,93.44 1079.4,93.69 1079.9,93.96 1080.4,94.25 1080.9,94.55 1081.4,94.88 1081.9,95.23 1082.4,95.59 1082.9,95.98 1083.4,96.38 1083.9,96.81 1084.4,97.25 1084.9,97.71 1085.4,98.19 1085.9,98.7 1086.4,99.22 1086.9,99.76 1087.4,100.32 1087.9,100.9 1088.4,101.5 1088.9,102.11 1089.4,102.75 1089.9,103.41 1090.4,104.08 1090.9,104.78 1091.4,105.49 1091.9,106.23 1092.4,106.99 1092.9,107.78 1093.4,108.59 1093.9,109.43 1094.4,110.3 1094.9,111.21 1095.4,112.15 1095.9,113.12 1096.4,114.13 1096.9,115.18 1097.4,116.27 1097.9,117.39 1098.4,118.54 1098.9,119.73 1099.4,120.95 1099.9,122.19 1100.4,123.47 1100.9,124.77 1101.4,126.1 1101.9,127.45 1102.4,128.82 1102.9,130.21 1103.4,131.61 1103.9,133.03 1104.4,134.45 1104.9,135.88 1105.4,137.31 1105.9,138.74 1106.4,140.17 1106.9,141.61 1107.4,143.07 1107.9,144.54 1108.4,146.05 1108.9,147.58 1109.4,149.16 1109.9,150.78 1110.4,152.47 1110.9,154.24 1111.4,156.1 1111.9,158.07 1112.4,160.17 1112.9,162.41 1113.4,164.77 1113.9,167.25 1114.4,169.84 1114.9,172.54 1115.4,175.32 1115.9,178.17 1116.4,181.05 1116.9,183.95 1117.4,186.85 1117.9,189.73 1118.4,192.59 1118.9,195.44 1119.4,198.29 1119.9,201.15 1120.4,204.02 1120.9,206.91 1121.4,209.83 1121.9,212.77 1122.4,215.74 1122.9,218.73 1123.4,221.75 1123.9,224.79 1124.4,227.86 1124.9,230.95 1125.4,234.07 1125.9,237.21 1126.4,240.37 1126.9,243.55 1127.4,246.74 1127.9,249.95 1128.4,253.16 1128.9,256.38 1129.4,259.61 1129.45,259.93"/>
</g>
<g stroke="#000" stroke-width="1.111" stroke-linecap="square" stroke-linejoin="miter" fill="none">
<rect x="74.5" y="35.5" width="1108.0" height="307.0"/>
</g>
<path d="M125.5 342.5V347.36M282.5 342.5V347.36M439.5 342.5V347.36M596.5 342.5V347.36M754.5 342.5V347.36M911.5 342.5V347.36M1068.5 342.5V347.36M74.5 288.5H69.64M74.5 231.5H69.64M74.5 174.5H69.64M74.5 117.5H69.64M74.5 59.5H69.64" stroke="#000" stroke-width="1.111" fill="none"/>
<g font-family="'DejaVu Sans', 'Liberation Sans', sans-serif" font-size="13.889px" fill="#000">
<text x="125.2" y="362.48" text-anchor="middle">0</text>
<text x="282.07" y="362.48" text-anchor="middle">1<tspan dx="-0.6">00</tspan></text>
<text x="439.24" y="362.48" text-anchor="middle">200</text>
<text x="595.81" y="362.48" text-anchor="middle">3<tspan dx="-1.3">00</tspan></text>
<text x="753.98" y="362.48" text-anchor="middle">4<tspan dx="-0.8">00</tspan></text>
<text x="911" y="362.48" text-anchor="middle">5<tspan dx="-0.5">00</tspan></text>
<text x="1068.32" y="362.48" text-anchor="middle">600</text>
<text x="64.68" y="293.68" text-anchor="end">1<tspan dx="-0.6">00</tspan></text>
<text x="64.68" y="237.43" text-anchor="end">1<tspan dx="-0.6">50</tspan></text>
<text x="64.68" y="179.18" text-anchor="end">200</text>
<text x="64.68" y="121.93" text-anchor="end">250</text>
<text x="64.68" y="64.68" text-anchor="end">3<tspan dx="-1.3">00</tspan></text>
<text x="627.25" y="382.77" text-anchor="middle">Time (s)</text>
<g transform="translate(26.72 213.3) rotate(-90)">
<text y="-0.564"><tspan x="0" font-style="oblique">F</tspan></text>
<text y="1.714" font-size="9.722px" x="7.989">0</text>
<text y="-0.564" x="18.969">(Hz)</text>
</g>
<text x="627.8" y="27.067" text-anchor="middle" font-size="16.667px">GoldilocksAndTheThreeBears_006_002</text>
</g>
</svg></body></html>
